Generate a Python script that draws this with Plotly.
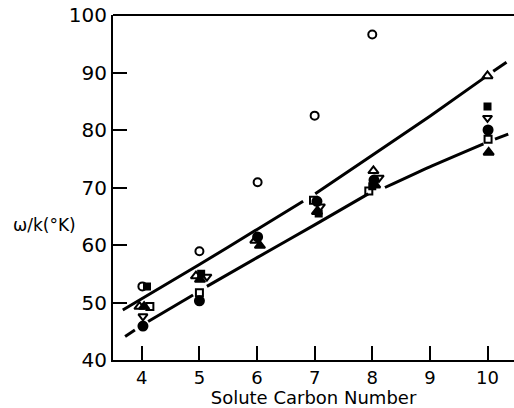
import plotly.graph_objects as go

# ---- data ----
carbon_ticks = [4, 5, 6, 7, 8, 9, 10]
y_ticks = [40, 50, 60, 70, 80, 90, 100]

# marker series (x = solute carbon number, slight horizontal spread as drawn)
open_circle_x = [4.01, 5.00, 6.01, 7.00, 8.00]
open_circle_y = [52.8, 58.9, 70.9, 82.5, 96.6]

filled_circle_x = [4.02, 5.00, 6.01, 7.04, 8.03, 10.01]
filled_circle_y = [45.9, 50.3, 61.4, 67.6, 71.3, 80.0]

open_tri_up_x = [3.96, 4.94, 5.97, 8.02, 10.00]
open_tri_up_y = [49.3, 54.6, 60.8, 72.9, 89.4]

filled_tri_up_x = [4.04, 5.01, 6.05, 7.04, 8.05, 10.02]
filled_tri_up_y = [49.3, 54.0, 59.9, 65.8, 70.4, 76.1]

open_tri_down_x = [4.02, 5.13, 7.10, 8.12, 10.00]
open_tri_down_y = [47.6, 54.5, 66.7, 71.7, 82.1]

open_square_x = [4.14, 5.00, 6.98, 7.94, 10.01]
open_square_y = [49.3, 51.7, 67.8, 69.4, 78.4]

filled_square_x = [4.09, 5.03, 7.07, 8.00, 10.00]
filled_square_y = [52.8, 55.0, 65.5, 70.2, 84.1]

# drawn curves (broken segments)
upper_segments = [
    ([3.67, 5.0, 6.0, 6.80], [48.7, 56.6, 62.7, 67.6]),
    ([7.01, 8.0, 9.0, 9.96], [68.9, 75.6, 82.4, 89.2]),
    ([10.10, 10.33], [90.2, 91.8]),
]
lower_segments = [
    ([3.71, 3.88], [44.1, 45.2]),
    ([4.11, 4.89], [46.7, 51.3]),
    ([5.13, 6.0, 7.0, 7.93], [52.8, 57.8, 63.5, 68.9]),
    ([8.22, 9.0, 9.93], [70.0, 73.6, 77.6]),
    ([10.13, 10.36], [78.4, 79.3]),
]

fig = go.Figure()

for xs, ys in upper_segments + lower_segments:
    fig.add_trace(go.Scatter(x=xs, y=ys, mode="lines",
                             line=dict(color="black", width=3, shape="spline", smoothing=0.5),
                             showlegend=False, hoverinfo="skip"))

series = [
    (open_circle_x, open_circle_y, "circle-open", 8),
    (filled_circle_x, filled_circle_y, "circle", 9),
    (open_tri_up_x, open_tri_up_y, "triangle-up-open", 9),
    (filled_tri_up_x, filled_tri_up_y, "triangle-up", 9),
    (open_tri_down_x, open_tri_down_y, "triangle-down-open", 8),
    (open_square_x, open_square_y, "square-open", 7),
    (filled_square_x, filled_square_y, "square", 6),
]
for xs, ys, sym, sz in series:
    fig.add_trace(go.Scatter(x=xs, y=ys, mode="markers",
                             marker=dict(symbol=sym, size=sz, color="black",
                                         line=dict(color="black", width=2)),
                             showlegend=False))

font_family = "DejaVu Sans, Liberation Sans, sans-serif"

fig.update_layout(
    width=514, height=408,
    margin=dict(l=113, r=0, t=15, b=48),
    paper_bgcolor="white", plot_bgcolor="white",
    font=dict(family=font_family, color="black"),
    xaxis=dict(range=[3.5, 10.46], tickvals=carbon_ticks,
               ticks="inside", ticklen=14, tickwidth=2, tickcolor="black",
               showline=True, linewidth=2, linecolor="black",
               showgrid=False, zeroline=False,
               tickfont=dict(size=18),
               title=dict(text="Solute Carbon Number", font=dict(size=18), standoff=3)),
    yaxis=dict(range=[40, 100], tickvals=y_ticks,
               ticks="inside", ticklen=14, tickwidth=2, tickcolor="black",
               showline=True, linewidth=2, linecolor="black",
               showgrid=False, zeroline=False,
               tickfont=dict(size=20)),
)

# top frame line
fig.add_shape(type="line", xref="paper", yref="paper", x0=0, x1=1, y0=1, y1=1,
              line=dict(color="black", width=2))

# horizontal y-axis title
fig.add_annotation(text="ω/k(°K)", xref="paper", yref="paper",
                   x=-0.088, y=0.39, xanchor="right", yanchor="middle",
                   showarrow=False, font=dict(size=17))

fig.write_html("out.html", config={"displayModeBar": False},
               post_script="document.body.style.margin='0';document.body.style.overflow='hidden';")
